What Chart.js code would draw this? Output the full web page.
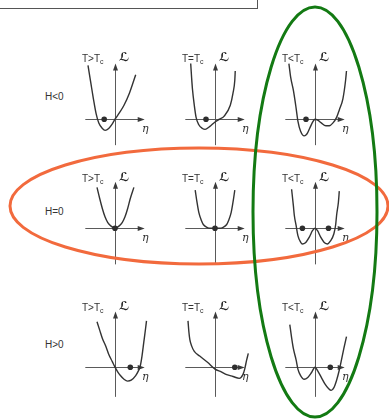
<!DOCTYPE html>
<html>
<head>
<meta charset="utf-8">
<script src="https://cdn.jsdelivr.net/npm/chart.js@4.4.1/dist/chart.umd.min.js"></script>
<style>
  html, body { margin: 0; padding: 0; background: #fff; }
  #page { position: relative; width: 389px; height: 419px; overflow: hidden;
          font-family: "Liberation Sans Narrow", "Liberation Sans", sans-serif; color: #333; }
  #page canvas { position: absolute; }
  .caption { position: absolute; left: -1px; top: -1px; width: 257px; height: 8px; border: 1px solid #555; }
  .lbl { position: absolute; font-size: 10px; line-height: 10px; white-space: nowrap; }
  .lbl sub { font-size: 7px; vertical-align: -2px; line-height: 0; }
  .sym { position: absolute; font-family: "DejaVu Serif", serif; font-style: italic;
         font-size: 11px; line-height: 11px; color: #333; }
  .sym.lagr { font-family: "DejaVu Sans", sans-serif; font-style: normal; font-weight: bold;
              font-size: 12px; color: #222; }
</style>
</head>
<body>
<div id="page"><div class="caption"></div></div>
<script>
const fieldLabels = ['H<0', 'H=0', 'H>0'];
const tempLabels = ['T>T', 'T=T', 'T<T'];

// free energy curves, [eta, L] pairs
const negFieldAbove = [[-30, 58], [-27, 40], [-24, 22], [-21, 6], [-18, -4], [-14, -10], [-11, -12],
  [-7, -10], [-3, -5], [0, 0], [5, 7], [10, 15], [16, 28], [23, 48]];
const negFieldCritical = [[-27, 60], [-26, 45], [-25, 32], [-23, 15], [-21, 2], [-18, -6], [-14, -10],
  [-11, -11], [-6, -8], [0, -3], [5, 0], [10, 3], [17, 15], [20, 28], [22, 42], [22.5, 52]];
const negFieldBelow = [[-29, 60], [-27, 45], [-24, 31], [-21, 12], [-19, -2], [-16, -13], [-12, -18],
  [-9, -16], [-6, -10], [-2, -2], [0, 0], [3, -1], [7, -4], [12, -7], [16, -7], [20, -4], [24, 2],
  [27, 10], [31, 22], [34, 42], [35, 52]];

const zeroFieldAbove = [[-20, 44], [-17, 32], [-14, 21], [-11, 12], [-8, 6], [-4, 2], [0, 0],
  [4, 2], [8, 6], [11, 12], [14, 21], [17, 32], [21, 44]];
const zeroFieldCritical = [[-22, 41], [-20, 28], [-18, 17], [-15, 8], [-13, 4], [-9, 1], [-5, 0], [0, 0],
  [5, 0], [9, 1], [13, 4], [15, 8], [18, 17], [20, 28], [22, 41]];
const zeroFieldBelow = [[-26, 42], [-24, 24], [-23, 14], [-21, 3], [-19, -8], [-16, -15], [-14, -17],
  [-11, -16], [-6, -9], [-3, -3], [0, 0], [3, -3], [6, -9], [11, -16], [14, -17], [17, -14],
  [21, -6], [23, 4], [24, 14], [26, 28], [27, 40]];

const posFieldAbove = [[-20, 49], [-17, 40], [-14, 31], [-10, 22], [-7, 14], [-3, 6], [0, 0], [3, -5],
  [6, -9], [10, -13], [14, -15], [18, -14], [23, -9], [26, -4], [28, 1], [30, 12], [32, 27],
  [34, 42], [35, 50]];
const posFieldCritical = [[-30, 50], [-29, 38], [-28, 30], [-26, 23], [-23, 17], [-17, 12], [-8, 5],
  [0, -2], [7, -5], [13, -8], [20, -10], [27, -12], [31, -8], [33, -2], [35, 7], [37, 15]];
const posFieldBelow = [[-28, 46], [-26, 32], [-24, 20], [-21, 8], [-19, -2], [-16, -9], [-12, -13],
  [-8, -11], [-4, -6], [0, 0], [3, -4], [7, -11], [11, -18], [15, -23], [18, -25], [21, -22],
  [24, -14], [27, -3], [29, 6], [32, 20], [35, 33]];

// equilibrium order parameter marked on the eta axis
const negFieldMinima = [[-12], [-10], [-10]];
const zeroFieldMinima = [[0], [0], [-14, 15]];
const posFieldMinima = [[17], [22], [17]];

const curves = [
  [negFieldAbove, negFieldCritical, negFieldBelow],
  [zeroFieldAbove, zeroFieldCritical, zeroFieldBelow],
  [posFieldAbove, posFieldCritical, posFieldBelow]
];
const minima = [negFieldMinima, zeroFieldMinima, posFieldMinima];

// panel placement on the page
const colX = [115, 215, 315];
const rowY = [120, 229, 368];
const axisTop = [60, 50, 60];
const axisBottom = [-28, -39, -32];
const captionDy = [62, 51, 61];
const fieldLabelY = [97, 212, 345];

const page = document.getElementById('page');

function addText(cls, text, left, top, sub) {
  const el = document.createElement('div');
  el.className = cls;
  el.textContent = text;
  if (sub) {
    const s = document.createElement('sub');
    s.textContent = sub;
    el.appendChild(s);
  }
  el.style.left = left + 'px';
  el.style.top = top + 'px';
  page.appendChild(el);
}

const axesPlugin = {
  id: 'landauAxes',
  beforeDatasetsDraw(chart, args, opts) {
    const { ctx, scales: { x, y } } = chart;
    const x0 = Math.round(x.getPixelForValue(0)) + 0.5;
    const y0 = Math.round(y.getPixelForValue(0)) + 0.5;
    const left = x.getPixelForValue(-33);
    const right = x.getPixelForValue(33);
    const top = y.getPixelForValue(opts.top);
    const bottom = y.getPixelForValue(opts.bottom);
    ctx.save();
    ctx.strokeStyle = '#5a5a5a';
    ctx.fillStyle = '#3a3a3a';
    ctx.lineWidth = 1;
    ctx.beginPath();
    ctx.moveTo(left, y0);
    ctx.lineTo(right - 3, y0);
    ctx.moveTo(x0, bottom);
    ctx.lineTo(x0, top + 3);
    ctx.stroke();
    ctx.beginPath();
    ctx.moveTo(right, y0);
    ctx.lineTo(right - 7, y0 - 2.5);
    ctx.lineTo(right - 7, y0 + 2.5);
    ctx.closePath();
    ctx.moveTo(x0, top);
    ctx.lineTo(x0 - 2.5, top + 7);
    ctx.lineTo(x0 + 2.5, top + 7);
    ctx.closePath();
    ctx.fill();
    ctx.restore();
  }
};

function makePanel(r, c) {
  const canvas = document.createElement('canvas');
  canvas.width = 80;
  canvas.height = 110;
  canvas.style.left = (colX[c] - 40) + 'px';
  canvas.style.top = (rowY[r] - 66) + 'px';
  page.appendChild(canvas);

  new Chart(canvas, {
    type: 'scatter',
    data: {
      datasets: [{
        data: curves[r][c].map(p => ({ x: p[0], y: p[1] })),
        showLine: true,
        cubicInterpolationMode: 'monotone',
        borderColor: '#333',
        borderWidth: 1.4,
        pointRadius: 0,
        clip: false,
        order: 2
      }, {
        data: minima[r][c].map(v => ({ x: v, y: 0 })),
        showLine: false,
        pointRadius: 2.8,
        pointBackgroundColor: '#2e2e2e',
        pointBorderWidth: 0,
        clip: false,
        order: 1
      }]
    },
    options: {
      responsive: false,
      animation: false,
      events: [],
      layout: { padding: 0 },
      plugins: {
        legend: { display: false },
        tooltip: { enabled: false },
        landauAxes: { top: axisTop[r], bottom: axisBottom[r] }
      },
      scales: {
        x: { type: 'linear', min: -40, max: 40, display: false },
        y: { type: 'linear', min: -44, max: 66, display: false }
      }
    },
    plugins: [axesPlugin]
  });

  addText('lbl', tempLabels[c], colX[c] - 33, rowY[r] - captionDy[r] - 4, 'c');
  addText('sym lagr', '\u2112', colX[c] + 4, rowY[r] - captionDy[r] - 6);
  addText('sym', '\u03b7', colX[c] + 27, rowY[r] + 3);
}

for (let r = 0; r < 3; r++) {
  addText('lbl', fieldLabels[r], 45, fieldLabelY[r] - 5);
  for (let c = 0; c < 3; c++) {
    makePanel(r, c);
  }
}

// highlight rings: H=0 row and T<Tc column
const ringPlugin = {
  id: 'rings',
  afterDraw(chart) {
    const { ctx, scales: { x, y } } = chart;
    const rings = [
      { cx: 199, cy: 206, rx: 189, ry: 58, color: '#f26a3d' },
      { cx: 315, cy: 212, rx: 62, ry: 205, color: '#137a13' }
    ];
    ctx.save();
    ctx.lineWidth = 3;
    rings.forEach(e => {
      const px = x.getPixelForValue(e.cx);
      const py = y.getPixelForValue(e.cy);
      const rx = Math.abs(x.getPixelForValue(e.cx + e.rx) - px);
      const ry = Math.abs(y.getPixelForValue(e.cy + e.ry) - py);
      ctx.strokeStyle = e.color;
      ctx.beginPath();
      ctx.ellipse(px, py, rx, ry, 0, 0, Math.PI * 2);
      ctx.stroke();
    });
    ctx.restore();
  }
};

const overlay = document.createElement('canvas');
overlay.width = 389;
overlay.height = 419;
overlay.style.left = '0px';
overlay.style.top = '0px';
page.appendChild(overlay);

new Chart(overlay, {
  type: 'scatter',
  data: { datasets: [] },
  options: {
    responsive: false,
    animation: false,
    events: [],
    layout: { padding: 0 },
    plugins: { legend: { display: false }, tooltip: { enabled: false } },
    scales: {
      x: { type: 'linear', min: 0, max: 389, display: false },
      y: { type: 'linear', min: 0, max: 419, reverse: true, display: false }
    }
  },
  plugins: [ringPlugin]
});
</script>
</body>
</html>
